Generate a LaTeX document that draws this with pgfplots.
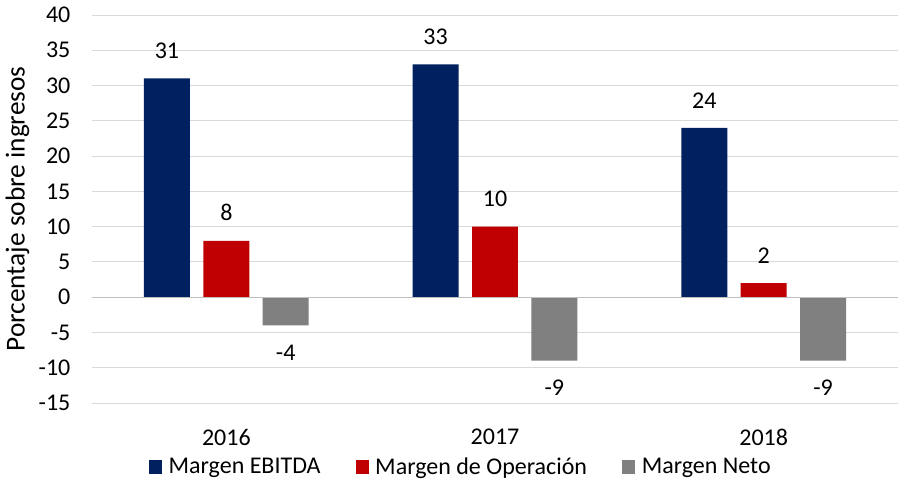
\documentclass[border=0pt]{standalone}
\usepackage{pgfplots}
\pgfplotsset{compat=1.18}
\usepackage{fontspec}
\setmainfont{Carlito}
\definecolor{cNavy}{HTML}{002060}
\definecolor{cRed}{HTML}{C00000}
\definecolor{cGray}{HTML}{808080}
\definecolor{cGrid}{HTML}{D9D9D9}
\definecolor{cZero}{HTML}{BFBFBF}
\begin{document}
\begin{tikzpicture}
\path[use as bounding box] (-69pt,-57.75pt) rectangle (605.25pt,302.25pt);
\begin{axis}[
  at={(0,0)}, anchor=south west,
  scale only axis,
  width=604.5pt, height=291pt,
  xmin=-0.5, xmax=2.5,
  ymin=-15, ymax=40,
  ytick={-15,-10,...,40},
  xtick={0,1,2},
  xticklabels={2016,2017,2018},
  axis line style={draw=none},
  major tick length=0pt,
  ymajorgrids,
  grid style={cGrid, line width=0.75pt},
  font=\fontsize{18}{21}\selectfont,
  /pgf/number format/assume math mode=true,
  yticklabel style={inner sep=0pt, xshift=-16pt, anchor=east},
  xticklabel style={inner sep=0pt, yshift=-19.5pt, anchor=north},
  ylabel={Porcentaje sobre ingresos},
  ylabel style={at={(axis description cs:-0.0924,0.5)}, anchor=center, font=\fontsize{20.5}{24}\selectfont},
  ybar, bar width=0.171,
  nodes near coords,
  nodes near coords align=vertical,
  every node near coord/.append style={inner xsep=0pt, inner ysep=14.6pt, font=\fontsize{18}{21}\selectfont, black},
  legend columns=3,
  legend style={at={(0.458,-0.165)}, anchor=center, draw=none, fill=none,
    font=\fontsize{18}{21}\selectfont,
    /tikz/every even column/.append style={column sep=24.25pt},
    /tikz/every odd column/.append style={column sep=3pt},
    inner sep=0pt},
  legend image code/.code={\fill[#1] (0pt,-4.9pt) rectangle (9.75pt,4.9pt);},
]
\addplot[fill=cNavy, draw=none, bar shift=-0.221] coordinates {(0,31) (1,33) (2,24)};
\addplot[fill=cRed, draw=none, bar shift=0] coordinates {(0,8) (1,10) (2,2)};
\addplot[fill=cGray, draw=none, bar shift=0.221] coordinates {(0,-4) (1,-9) (2,-9)};
\legend{Margen EBITDA, Margen de Operación, Margen Neto}
\draw[cZero, line width=1pt] (axis cs:-0.5,0) -- (axis cs:2.5,0);
\end{axis}
\end{tikzpicture}
\end{document}
